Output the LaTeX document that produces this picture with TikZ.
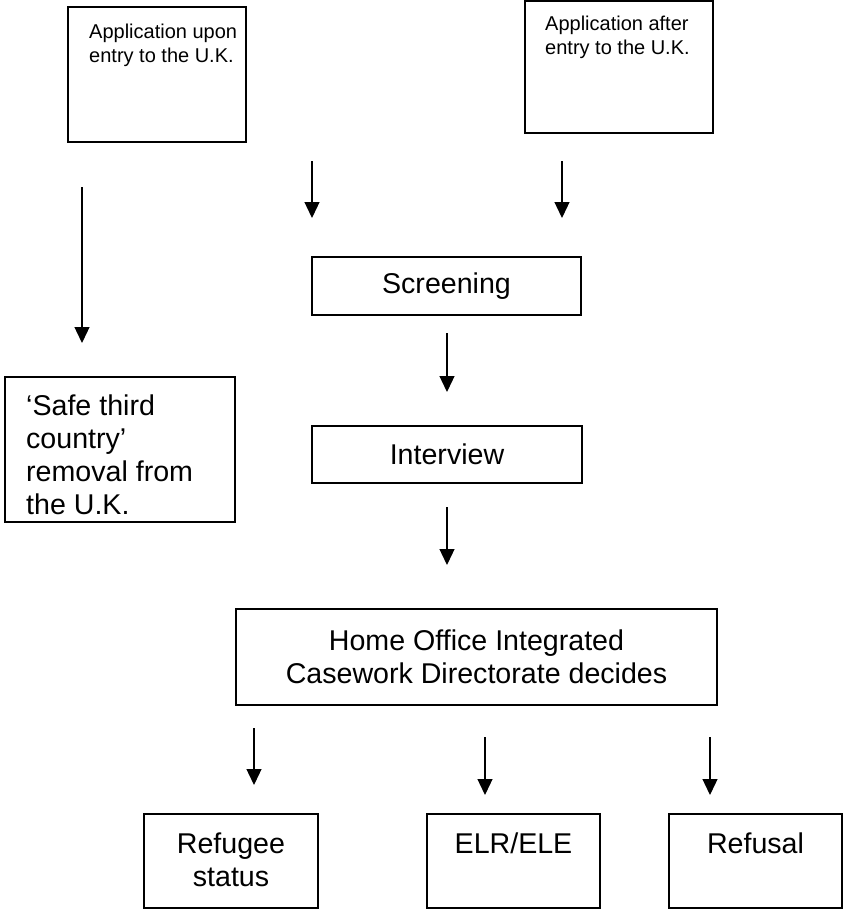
\documentclass[tikz,border=0pt]{standalone}
\usepackage{fontspec}
\setmainfont{Liberation Sans}
\usetikzlibrary{arrows.meta}

\begin{document}
\begin{tikzpicture}[x=1pt,y=-1pt,
    box/.style={draw, line width=1.8pt, inner sep=0pt, outer sep=0pt, anchor=north west},
    big/.style={font=\fontsize{28.6}{33}\selectfont, align=center, inner sep=0pt},
    small/.style={font=\fontsize{20}{24}\selectfont, align=left, inner sep=0pt, anchor=north west},
    arr/.style={-{Triangle[length=16pt,width=15pt]}, line width=1.3pt}]
    \useasboundingbox (0,0) rectangle (844,911);

    \node[box, minimum width=178, minimum height=135] (upon) at (68,7) {};
    \node[small] (uponlbl) at (89,24) {Application upon\\entry to the U.K.};
    \node[box, minimum width=188, minimum height=132] (after) at (525,1) {};
    \node[small] (afterlbl) at (545,16) {Application after\\entry to the U.K.};

    \node[box, minimum width=230, minimum height=145] (safe) at (5,377) {};
    \node[big, align=left, anchor=north west] (safelbl) at (26,395)
        {‘Safe third\\country’\\removal from\\the U.K.};

    \node[box, big, minimum width=269, minimum height=58] (screen) at (312,257) {Screening};
    \node[box, big, minimum width=270, minimum height=57] (interview) at (312,426) {Interview};
    \node[box, big, minimum width=481, minimum height=96] (hoicd) at (236,609)
        {Home Office Integrated\\Casework Directorate decides};

    \node[box, minimum width=174, minimum height=94] (refugee) at (144,814) {};
    \node[box, minimum width=173, minimum height=94] (elr) at (427,814) {};
    \node[box, minimum width=173, minimum height=94] (refusal) at (669,814) {};
    \node[big, anchor=north] (refugeelbl) at ([yshift=-19pt]refugee.north) {Refugee\\status};
    \node[big, anchor=north] (elrlbl) at ([yshift=-19pt]elr.north) {ELR/ELE};
    \node[big, anchor=north] (refusallbl) at ([yshift=-19pt]refusal.north) {Refusal};

    \coordinate (l0) at (82,187);  \coordinate (l1) at (82,343);
    \coordinate (u0) at (312,161); \coordinate (u1) at (312,218);
    \coordinate (a0) at (562,161); \coordinate (a1) at (562,218);
    \coordinate (s0) at (447,333); \coordinate (s1) at (447,392);
    \coordinate (i0) at (447,507); \coordinate (i1) at (447,565);
    \coordinate (r0) at (254,728); \coordinate (r1) at (254,785);
    \coordinate (e0) at (485,737); \coordinate (e1) at (485,795);
    \coordinate (f0) at (710,737); \coordinate (f1) at (710,795);

    \draw[arr] (l0) -- (l1);
    \draw[arr] (u0) -- (u1);
    \draw[arr] (a0) -- (a1);
    \draw[arr] (s0) -- (s1);
    \draw[arr] (i0) -- (i1);
    \draw[arr] (r0) -- (r1);
    \draw[arr] (e0) -- (e1);
    \draw[arr] (f0) -- (f1);

\end{tikzpicture}
\end{document}
